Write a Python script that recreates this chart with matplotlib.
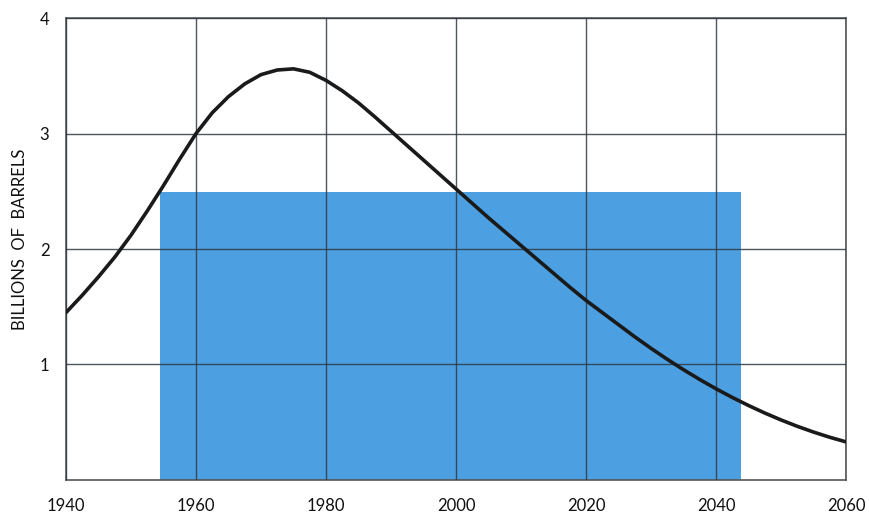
import matplotlib
matplotlib.use("Agg")
import matplotlib.pyplot as plt

# Annual production curve (billions of barrels)
years = [1940, 1942.5, 1945, 1947.5, 1950, 1952.5, 1955, 1957.5, 1960, 1962.5,
         1965, 1967.5, 1970, 1972.5, 1975, 1977.5, 1980, 1982.5, 1985, 1987.5,
         1990, 1992.5, 1995, 1997.5, 2000, 2002.5, 2005, 2007.5, 2010, 2012.5,
         2015, 2017.5, 2020, 2022.5, 2025, 2027.5, 2030, 2032.5, 2035, 2037.5,
         2040, 2042.5, 2045, 2047.5, 2050, 2052.5, 2055, 2057.5, 2060]
production = [1.45, 1.60, 1.76, 1.93, 2.12, 2.33, 2.55, 2.78, 3.00, 3.18,
              3.32, 3.43, 3.51, 3.55, 3.56, 3.53, 3.46, 3.37, 3.265, 3.145,
              3.02, 2.895, 2.77, 2.645, 2.52, 2.395, 2.27, 2.15, 2.03, 1.91,
              1.79, 1.67, 1.555, 1.45, 1.345, 1.24, 1.14, 1.045, 0.955, 0.87,
              0.79, 0.715, 0.645, 0.58, 0.52, 0.465, 0.415, 0.37, 0.33]

# Constant-rate block
block_start = 1954.5
block_end = 2043.8
block_level = 2.49

x_ticks = [1940, 1960, 1980, 2000, 2020, 2040, 2060]
y_ticks = [1, 2, 3, 4]
y_tick_labels = ["1", "2", "3", "4"]

plt.rcParams["font.family"] = ["Lato", "DejaVu Sans"]

fig = plt.figure(figsize=(8.69, 5.15), dpi=100)
ax = fig.add_axes([0.076, 0.068, 0.8975, 0.897])

ax.bar(block_start, block_level, width=block_end - block_start, align="edge",
       color="#4ca0e2", edgecolor="none", zorder=1)

ax.set_xlim(1940, 2060)
ax.set_ylim(0, 4)
ax.set_xticks(x_ticks)
ax.set_yticks(y_ticks)
ax.set_yticklabels(y_tick_labels)
ax.grid(True, color="#2f3a45", linewidth=1.0, alpha=0.85, zorder=2)
ax.set_axisbelow(False)

ax.plot(years, production, color="#1a1a1a", linewidth=2.6,
        solid_joinstyle="round", solid_capstyle="round", zorder=3)

for side in ax.spines.values():
    side.set_color("#555555")
    side.set_linewidth(1.2)

ax.tick_params(axis="both", length=0, labelsize=12, colors="#111111")
ax.tick_params(axis="x", pad=13)
ax.tick_params(axis="y", pad=12)

ax.set_ylabel("BILLIONS  OF  BARRELS", fontsize=12, color="#111111")
ax.yaxis.set_label_coords(-0.049, 0.52)

fig.savefig("out.png", dpi=100, facecolor="white")
